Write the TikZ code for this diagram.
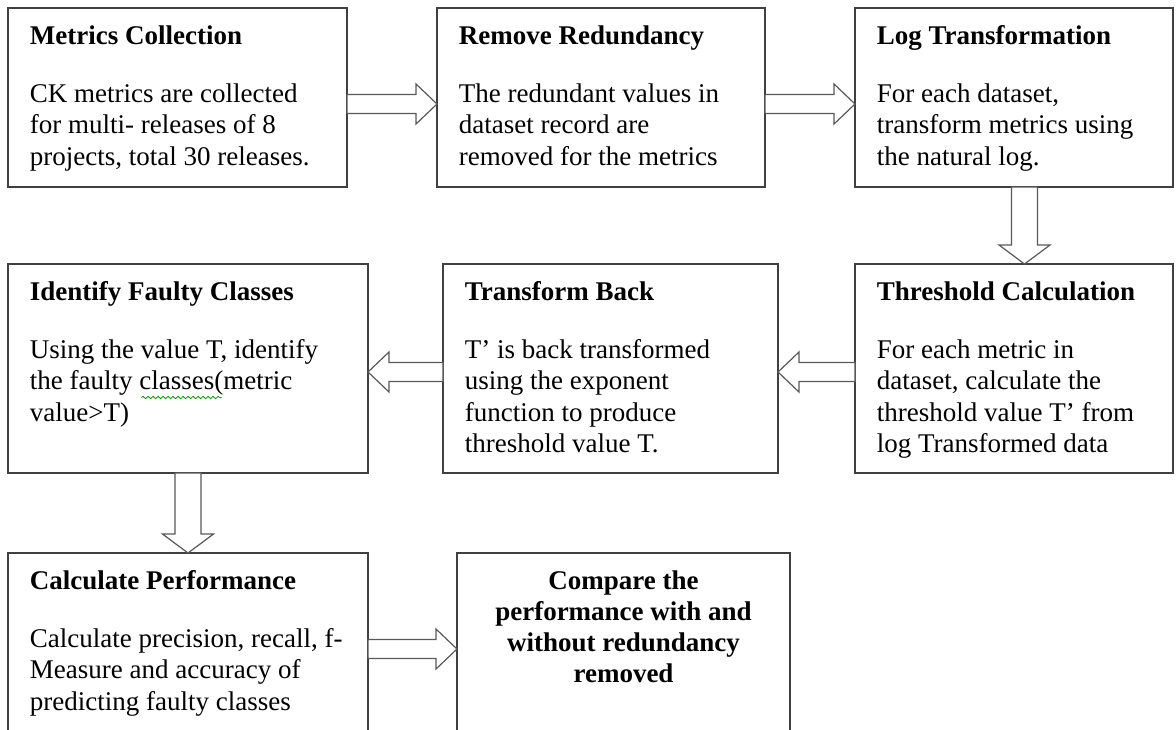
\documentclass[tikz,border=0pt]{standalone}
\usepackage{fontspec}
\setmainfont{Liberation Serif}
\usetikzlibrary{calc,decorations.pathmorphing}

\begin{document}
\begin{tikzpicture}[x=0.5pt,y=-0.5pt]

    % Page frame (boxes of the last row run off the bottom)
    \path[use as bounding box, clip] (0,0) rectangle (1176,729);

    \tikzset{
      box/.style={draw=black!75, line width=0.8pt, fill=white, inner sep=0pt, outer sep=0pt, anchor=north west},
      txt/.style={inner sep=0pt, anchor=north west, align=left, font=\fontsize{13.5}{15.75}\selectfont},
      blk/.style n args={3}{draw=black!65, line width=0.6pt, fill=white,
        to path={let \p1=(\tikztostart), \p2=(\tikztotarget), \n1={atan2(\y2-\y1,\x2-\x1)} in
          ($(\p1)+(\n1+90:#1)$) -- ($(\p2)+(\n1+180:#3)+(\n1+90:#1)$) -- ($(\p2)+(\n1+180:#3)+(\n1+90:#2)$)
          -- (\p2) -- ($(\p2)+(\n1+180:#3)+(\n1-90:#2)$) -- ($(\p2)+(\n1+180:#3)+(\n1-90:#1)$)
          -- ($(\p1)+(\n1-90:#1)$) -- cycle}},
      harrow/.style={blk={4.75pt}{10pt}{10.5pt}},
      varrow/.style={blk={6.5pt}{12.75pt}{9.5pt}}
    }

    % Boxes
    \node[box, minimum width=169.5pt, minimum height=89.5pt]  (mc)  at (8,8)     {};
    \node[box, minimum width=164pt,   minimum height=89.5pt]  (rr)  at (437,8)   {};
    \node[box, minimum width=159pt,   minimum height=89.5pt]  (lt)  at (855,8)   {};
    \node[box, minimum width=159pt,   minimum height=104.5pt] (tc)  at (855,264) {};
    \node[box, minimum width=167.5pt, minimum height=104.5pt] (tb)  at (443,264) {};
    \node[box, minimum width=180pt,   minimum height=104.5pt] (ifc) at (8,264)   {};
    \node[box, minimum width=180pt,   minimum height=96pt]    (cp)  at (8,553)   {};
    \node[box, minimum width=166.5pt, minimum height=96pt]    (cmp) at (457,553) {};

    % Texts
    \node[txt] (mc-t) at ([shift={(21.5,17)}]mc.north west)
      {\textbf{Metrics Collection}\\[13.25pt] CK metrics are collected\\ for multi- releases of 8\\ projects, total 30 releases.};
    \node[txt] (rr-t) at ([shift={(21.5,17)}]rr.north west)
      {\textbf{Remove Redundancy}\\[13.25pt] The redundant values in\\ dataset record are\\ removed for the metrics};
    \node[txt] (lt-t) at ([shift={(21.5,17)}]lt.north west)
      {\textbf{Log Transformation}\\[13.25pt] For each dataset,\\ transform metrics using\\ the natural log.};
    \node[txt] (tc-t) at ([shift={(21.5,17)}]tc.north west)
      {\textbf{Threshold Calculation}\\[13.25pt] For each metric in\\ dataset, calculate the\\ threshold value T’ from\\ log Transformed data};
    \node[txt] (tb-t) at ([shift={(21.5,17)}]tb.north west)
      {\textbf{Transform Back}\\[13.25pt] T’ is back transformed\\ using the exponent\\ function to produce\\ threshold value T.};
    \node[txt] (ifc-t) at ([shift={(21.5,17)}]ifc.north west)
      {\textbf{Identify Faulty Classes}\\[13.25pt] Using the value T, identify\\ the faulty classes(metric\\ value>T)};
    \node[txt] (cp-t) at ([shift={(21.5,17)}]cp.north west)
      {\textbf{Calculate Performance}\\[13.25pt] Calculate precision, recall, f-\\ Measure and accuracy of\\ predicting faulty classes};
    \node[txt, anchor=north, align=center, font=\bfseries\fontsize{13.5}{15.5}\selectfont] (cmp-t) at ([shift={(0,17)}]cmp.north)
      {Compare the\\ performance with and\\ without redundancy\\ removed};

    % Spell-check squiggle
    \draw[green!60!black, line width=0.4pt, decorate, decoration={snake, amplitude=0.6pt, segment length=2.5pt}]
      ([shift={(112,116.5)}]ifc-t.north west) -- ++(80,0);

    % Block arrows
    \draw[harrow] ([shift={(0,6.5)}]mc.east) to ([shift={(0,6.5)}]rr.west);
    \draw[harrow] ([shift={(0,6.5)}]rr.east) to ([shift={(0,6.5)}]lt.west);
    \draw[varrow] ([shift={(10.5,0)}]lt.south) to ([shift={(10.5,0)}]tc.north);
    \draw[harrow] ([shift={(0,3.5)}]tc.west) to ([shift={(0,3.5)}]tb.east);
    \draw[harrow] ([shift={(0,3.5)}]tb.west) to ([shift={(0,3.5)}]ifc.east);
    \draw[varrow] (ifc.south) to (cp.north);
    \draw[harrow] (cp.east) to (cmp.west);

\end{tikzpicture}
\end{document}
